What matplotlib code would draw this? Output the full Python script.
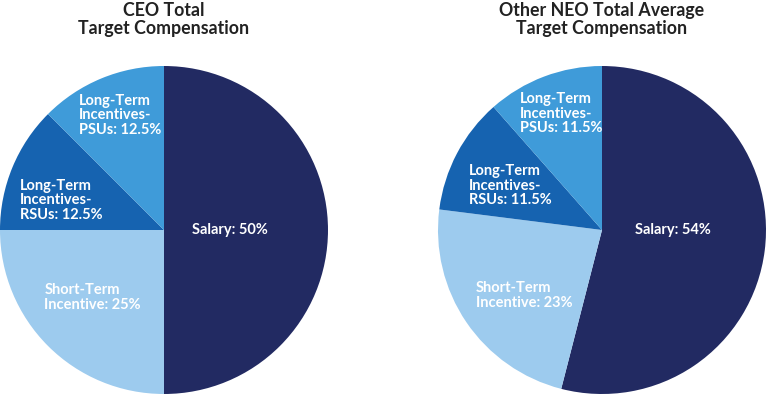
import matplotlib
matplotlib.use("Agg")
import matplotlib.pyplot as plt

labels_ceo = ["Salary: 50%", "Short-Term\nIncentive: 25%",
              "Long-Term\nIncentives-\nRSUs: 12.5%", "Long-Term\nIncentives-\nPSUs: 12.5%"]
values_ceo = [50, 25, 12.5, 12.5]
labels_neo = ["Salary: 54%", "Short-Term\nIncentive: 23%",
              "Long-Term\nIncentives-\nRSUs: 11.5%", "Long-Term\nIncentives-\nPSUs: 11.5%"]
values_neo = [54, 23, 11.5, 11.5]
titles = ["CEO Total\nTarget Compensation", "Other NEO Total Average\nTarget Compensation"]
colors = ["#222a62", "#9dcbee", "#1663b0", "#3f9bd9"]

W, H = 767, 395
fig = plt.figure(figsize=(W / 100, H / 100), dpi=100)
plt.rcParams["font.family"] = ["Lato", "DejaVu Sans"]

# pie centres / radius in pixels
centres = [(164, 230), (602, 230)]
R = 164
# label anchors in pie units (x, y, ha)
pos = [
    [(0.40, 0.0, "center"), (-0.73, -0.41, "left"), (-0.88, 0.18, "left"), (-0.52, 0.70, "left")],
    [(0.43, 0.0, "center"), (-0.77, -0.40, "left"), (-0.81, 0.27, "left"), (-0.50, 0.71, "left")],
]

for i, (vals, labs) in enumerate([(values_ceo, labels_ceo), (values_neo, labels_neo)]):
    cx, cy = centres[i]
    ax = fig.add_axes([(cx - R) / W, (H - cy - R) / H, 2 * R / W, 2 * R / H])
    ax.pie(vals, colors=colors, startangle=90, counterclock=False, radius=1)
    ax.set_xlim(-1, 1)
    ax.set_ylim(-1, 1)
    ax.set_aspect("auto")
    for lab, (x, y, ha) in zip(labs, pos[i]):
        ax.text(x, y, lab, ha=ha, va="center", color="white", fontsize=10.5,
                fontweight="bold", linespacing=1.05)
    fig.text(cx / W, 1 - 2 / H, titles[i], ha="center", va="top", fontsize=12.8,
             fontweight="bold", color="#222222", linespacing=1.05)

fig.savefig("out.png", dpi=100)
